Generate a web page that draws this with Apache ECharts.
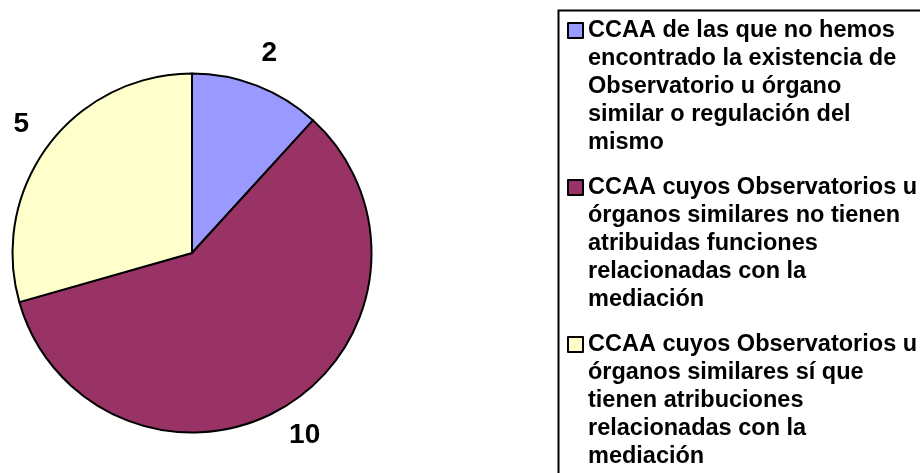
<!DOCTYPE html>
<html>
<head>
<meta charset="utf-8">
<script src="https://cdn.jsdelivr.net/npm/echarts@6/dist/echarts.min.js"></script>
<style>
  html, body { margin: 0; padding: 0; background: #fff; }
  #chart { width: 920px; height: 473px; }
</style>
</head>
<body>
<div id="chart"></div>
<script>
var categories = [
  "CCAA de las que no hemos\nencontrado la existencia de\nObservatorio u órgano\nsimilar o regulación del\nmismo",
  "CCAA cuyos Observatorios u\nórganos similares no tienen\natribuidas funciones\nrelacionadas con la\nmediación",
  "CCAA cuyos Observatorios u\nórganos similares sí que\ntienen atribuciones\nrelacionadas con la\nmediación"
];
var values = [2, 10, 5];
var colors = ["#9999FF", "#993366", "#FFFFCC"];

var font = "'Liberation Sans', Arial, sans-serif";
var chart = echarts.init(document.getElementById("chart"));

var pieData = categories.map(function (name, i) {
  return { name: name, value: values[i], itemStyle: { color: colors[i] } };
});

chart.setOption({
  animation: false,
  // legend frame (runs off the right and bottom edge like the original)
  graphic: [
    {
      type: "rect",
      left: 556,
      top: 8,
      shape: { width: 500, height: 600 },
      style: { fill: "none", stroke: "#000", lineWidth: 2 },
      silent: true
    }
  ],
  legend: {
    orient: "vertical",
    left: 567,
    top: 16,
    padding: 0,
    itemGap: 15,
    itemWidth: 15,
    itemHeight: 140,
    // square at the first text line, empty space below
    icon: "path://M0,0M0,6H15V21H0ZM15,140",
    selectedMode: false,
    itemStyle: { borderColor: "#000", borderWidth: 2 },
    textStyle: {
      fontFamily: font,
      fontWeight: "bold",
      fontSize: 23.5,
      lineHeight: 28,
      color: "#000"
    },
    data: categories
  },
  series: [
    {
      type: "pie",
      center: [192, 253],
      radius: 179.5,
      startAngle: 90,
      clockwise: true,
      silent: true,
      label: { show: false },
      labelLine: { show: false },
      itemStyle: { borderColor: "#000", borderWidth: 2 },
      data: pieData
    },
    {
      // invisible ring used only to place the value labels
      type: "pie",
      center: [192, 253],
      radius: [0, 422],
      startAngle: 90,
      clockwise: true,
      silent: true,
      itemStyle: { color: "rgba(0,0,0,0)", borderWidth: 0 },
      label: {
        show: true,
        position: "inside",
        formatter: "{c}",
        fontFamily: font,
        fontWeight: "bold",
        fontSize: 28,
        color: "#000"
      },
      labelLine: { show: false },
      data: categories.map(function (name, i) {
        return { name: name, value: values[i] };
      })
    }
  ]
});
</script>
</body>
</html>
